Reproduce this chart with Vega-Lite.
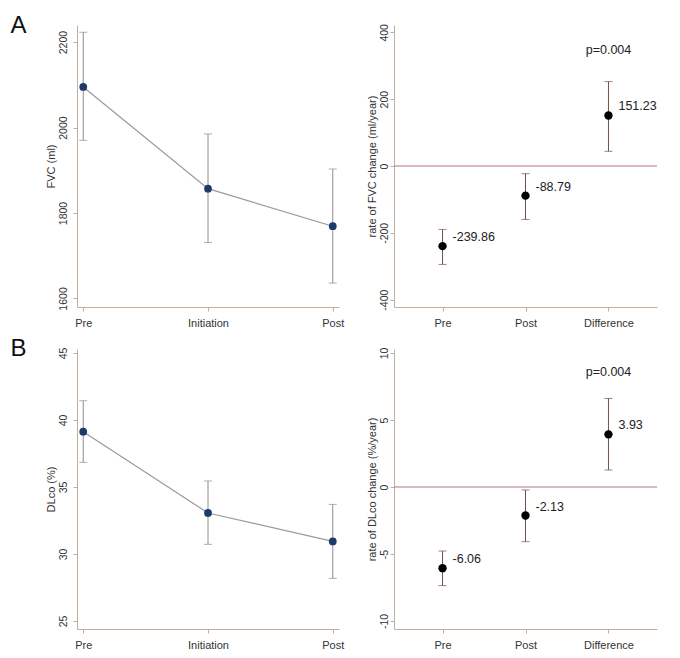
{
  "$schema": "https://vega.github.io/schema/vega-lite/v6.json",
  "background": "white",
  "padding": {"left": 10, "top": 13, "right": 5, "bottom": 5},
  "datasets": {
    "fvc": [
      {"time": "Pre", "mean": 2095, "lo": 1970, "hi": 2223},
      {"time": "Initiation", "mean": 1857, "lo": 1731, "hi": 1985},
      {"time": "Post", "mean": 1769, "lo": 1636, "hi": 1903}
    ],
    "fvcRate": [
      {"time": "Pre", "mean": -239.86, "lo": -294.5, "hi": -189.7},
      {"time": "Post", "mean": -88.79, "lo": -160, "hi": -23},
      {"time": "Difference", "mean": 151.23, "lo": 44, "hi": 252.6}
    ],
    "dlco": [
      {"time": "Pre", "mean": 39.13, "lo": 36.84, "hi": 41.44},
      {"time": "Initiation", "mean": 33.06, "lo": 30.72, "hi": 35.45},
      {"time": "Post", "mean": 30.94, "lo": 28.18, "hi": 33.7}
    ],
    "dlcoRate": [
      {"time": "Pre", "mean": -6.06, "lo": -7.36, "hi": -4.78},
      {"time": "Post", "mean": -2.13, "lo": -4.08, "hi": -0.22},
      {"time": "Difference", "mean": 3.93, "lo": 1.27, "hi": 6.61}
    ]
  },
  "vconcat": [
    {
      "title": {"text": "A", "anchor": "start", "dx": -35, "dy": 14, "offset": 0},
      "spacing": 22,
      "hconcat": [
        {
          "width": 262,
          "height": 282,
          "data": {"name": "fvc"},
          "encoding": {
            "x": {
              "field": "time",
              "type": "ordinal",
              "scale": {"type": "point", "padding": 0.05, "domain": ["Pre", "Initiation", "Post"]},
              "axis": {"title": null, "labelAngle": 0}
            }
          },
          "layer": [
            {
              "mark": {"type": "rule", "color": "#8e8e8e"},
              "encoding": {
                "y": {
                  "field": "lo",
                  "type": "quantitative",
                  "scale": {"domain": [1580, 2240], "nice": false, "zero": false},
                  "axis": {"title": "FVC (ml)", "values": [1600, 1800, 2000, 2200], "labelPadding": 4.5}
                },
                "y2": {"field": "hi"}
              }
            },
            {
              "mark": {"type": "tick", "color": "#8e8e8e", "size": 8, "thickness": 1},
              "encoding": {"y": {"field": "lo", "type": "quantitative"}}
            },
            {
              "mark": {"type": "tick", "color": "#8e8e8e", "size": 8, "thickness": 1},
              "encoding": {"y": {"field": "hi", "type": "quantitative"}}
            },
            {
              "mark": {"type": "line", "color": "#9a9a9a", "strokeWidth": 1.2},
              "encoding": {"y": {"field": "mean", "type": "quantitative"}}
            },
            {
              "mark": {"type": "point", "filled": true, "color": "#1c3b6b", "opacity": 1, "size": 60},
              "encoding": {"y": {"field": "mean", "type": "quantitative"}}
            }
          ]
        },
        {
          "width": 263,
          "height": 282,
          "layer": [
            {
              "data": {"values": [{}]},
              "mark": {"type": "rule", "color": "#b5727f"},
              "encoding": {
                "y": {
                  "datum": 0,
                  "type": "quantitative",
                  "scale": {"domain": [-422, 422], "nice": false, "zero": false},
                  "axis": {"title": "rate of FVC change (ml/year)", "values": [-400, -200, 0, 200, 400], "labelPadding": 1}
                }
              }
            },
            {
              "data": {"name": "fvcRate"},
              "encoding": {
                "x": {
                  "field": "time",
                  "type": "ordinal",
                  "scale": {"type": "point", "padding": 0.585, "domain": ["Pre", "Post", "Difference"]},
                  "axis": {"title": null, "labelAngle": 0}
                }
              },
              "layer": [
                {
                  "mark": {"type": "rule", "color": "#6e5046"},
                  "encoding": {
                    "y": {"field": "lo", "type": "quantitative"},
                    "y2": {"field": "hi"}
                  }
                },
                {
                  "mark": {"type": "tick", "color": "#6e5046", "size": 8, "thickness": 1},
                  "encoding": {"y": {"field": "lo", "type": "quantitative"}}
                },
                {
                  "mark": {"type": "tick", "color": "#6e5046", "size": 8, "thickness": 1},
                  "encoding": {"y": {"field": "hi", "type": "quantitative"}}
                },
                {
                  "mark": {"type": "point", "filled": true, "color": "black", "opacity": 1, "size": 70},
                  "encoding": {"y": {"field": "mean", "type": "quantitative"}}
                },
                {
                  "mark": {"type": "text", "align": "left", "dx": 10, "dy": -9, "fontSize": 12.5},
                  "encoding": {
                    "y": {"field": "mean", "type": "quantitative"},
                    "text": {"field": "mean", "type": "nominal"}
                  }
                }
              ]
            },
            {
              "data": {"values": [{}]},
              "mark": {"type": "text", "align": "center", "fontSize": 12.5},
              "encoding": {
                "x": {"datum": "Difference", "type": "ordinal"},
                "y": {"datum": 348, "type": "quantitative"},
                "text": {"value": "p=0.004"}
              }
            }
          ]
        }
      ]
    },
    {
      "title": {"text": "B", "anchor": "start", "dx": -35, "dy": 14, "offset": 0},
      "spacing": 22,
      "hconcat": [
        {
          "width": 262,
          "height": 280,
          "data": {"name": "dlco"},
          "encoding": {
            "x": {
              "field": "time",
              "type": "ordinal",
              "scale": {"type": "point", "padding": 0.05, "domain": ["Pre", "Initiation", "Post"]},
              "axis": {"title": null, "labelAngle": 0}
            }
          },
          "layer": [
            {
              "mark": {"type": "rule", "color": "#8e8e8e"},
              "encoding": {
                "y": {
                  "field": "lo",
                  "type": "quantitative",
                  "scale": {"domain": [24.4, 45.3], "nice": false, "zero": false},
                  "axis": {"title": "DLco (%)", "values": [25, 30, 35, 40, 45], "labelPadding": 4.5}
                },
                "y2": {"field": "hi"}
              }
            },
            {
              "mark": {"type": "tick", "color": "#8e8e8e", "size": 8, "thickness": 1},
              "encoding": {"y": {"field": "lo", "type": "quantitative"}}
            },
            {
              "mark": {"type": "tick", "color": "#8e8e8e", "size": 8, "thickness": 1},
              "encoding": {"y": {"field": "hi", "type": "quantitative"}}
            },
            {
              "mark": {"type": "line", "color": "#9a9a9a", "strokeWidth": 1.2},
              "encoding": {"y": {"field": "mean", "type": "quantitative"}}
            },
            {
              "mark": {"type": "point", "filled": true, "color": "#1c3b6b", "opacity": 1, "size": 60},
              "encoding": {"y": {"field": "mean", "type": "quantitative"}}
            }
          ]
        },
        {
          "width": 263,
          "height": 280,
          "layer": [
            {
              "data": {"values": [{}]},
              "mark": {"type": "rule", "color": "#b5727f"},
              "encoding": {
                "y": {
                  "datum": 0,
                  "type": "quantitative",
                  "scale": {"domain": [-10.6, 10.3], "nice": false, "zero": false},
                  "axis": {"title": "rate of DLco change (%/year)", "values": [-10, -5, 0, 5, 10], "labelPadding": 1}
                }
              }
            },
            {
              "data": {"name": "dlcoRate"},
              "encoding": {
                "x": {
                  "field": "time",
                  "type": "ordinal",
                  "scale": {"type": "point", "padding": 0.585, "domain": ["Pre", "Post", "Difference"]},
                  "axis": {"title": null, "labelAngle": 0}
                }
              },
              "layer": [
                {
                  "mark": {"type": "rule", "color": "#6e5046"},
                  "encoding": {
                    "y": {"field": "lo", "type": "quantitative"},
                    "y2": {"field": "hi"}
                  }
                },
                {
                  "mark": {"type": "tick", "color": "#6e5046", "size": 8, "thickness": 1},
                  "encoding": {"y": {"field": "lo", "type": "quantitative"}}
                },
                {
                  "mark": {"type": "tick", "color": "#6e5046", "size": 8, "thickness": 1},
                  "encoding": {"y": {"field": "hi", "type": "quantitative"}}
                },
                {
                  "mark": {"type": "point", "filled": true, "color": "black", "opacity": 1, "size": 70},
                  "encoding": {"y": {"field": "mean", "type": "quantitative"}}
                },
                {
                  "mark": {"type": "text", "align": "left", "dx": 10, "dy": -9, "fontSize": 12.5},
                  "encoding": {
                    "y": {"field": "mean", "type": "quantitative"},
                    "text": {"field": "mean", "type": "nominal"}
                  }
                }
              ]
            },
            {
              "data": {"values": [{}]},
              "mark": {"type": "text", "align": "center", "fontSize": 12.5},
              "encoding": {
                "x": {"datum": "Difference", "type": "ordinal"},
                "y": {"datum": 8.6, "type": "quantitative"},
                "text": {"value": "p=0.004"}
              }
            }
          ]
        }
      ]
    }
  ],
  "spacing": 9,
  "config": {
    "view": {"stroke": null},
    "font": "Liberation Sans",
    "axis": {
      "grid": false,
      "domainColor": "#c4ae9c",
      "tickColor": "#c4ae9c",
      "tickSize": 4,
      "labelFont": "Liberation Sans",
      "titleFont": "Liberation Sans",
      "labelColor": "#333333",
      "titleColor": "#333333",
      "labelFontSize": 10.5,
      "titleFontSize": 11,
      "titleFontWeight": "normal"
    },
    "axisX": {"labelPadding": 6, "labelFontSize": 11},
    "axisY": {
      "labelAngle": -90,
      "labelAlign": "center",
      "labelBaseline": "bottom",
      "titlePadding": 2,
      "labelExpr": "'' + datum.value"
    },
    "text": {"font": "Liberation Sans", "color": "#222222"},
    "title": {"font": "Liberation Sans", "fontSize": 24, "fontWeight": "normal", "color": "#111111"}
  }
}
